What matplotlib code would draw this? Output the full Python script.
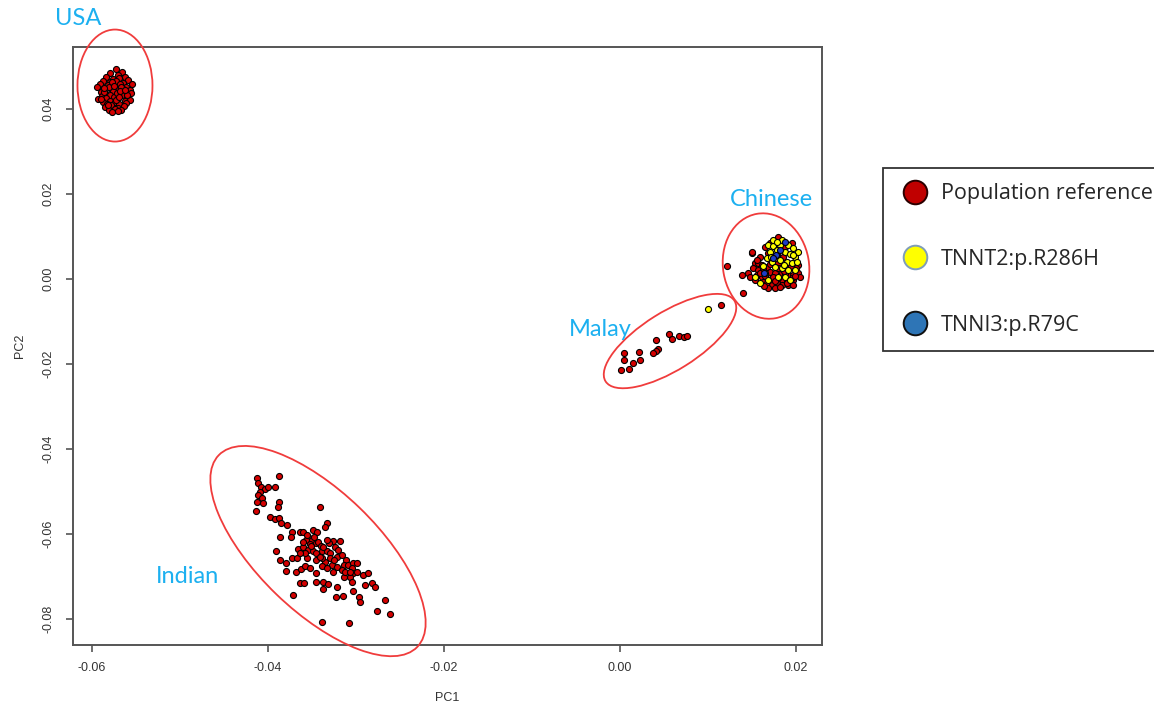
import matplotlib
matplotlib.use("Agg")
import matplotlib.pyplot as plt
from matplotlib.patches import Ellipse
from matplotlib.lines import Line2D
from matplotlib.transforms import ScaledTranslation

# ---------------- data (PC1, PC2) ----------------
usa_pc1 = [-0.0573, -0.0566, -0.0579, -0.0570, -0.0562, -0.0584, -0.0576, -0.0569, -0.0559, -0.0587,
           -0.0580, -0.0573, -0.0565, -0.0591, -0.0582, -0.0577, -0.0568, -0.0561, -0.0555, -0.0594,
           -0.0587, -0.0580, -0.0571, -0.0566, -0.0557, -0.0590, -0.0585, -0.0576, -0.0571, -0.0562,
           -0.0556, -0.0589, -0.0580, -0.0575, -0.0566, -0.0560, -0.0593, -0.0584, -0.0579, -0.0570,
           -0.0563, -0.0557, -0.0588, -0.0583, -0.0574, -0.0569, -0.0561, -0.0585, -0.0578, -0.0571,
           -0.0564, -0.0581, -0.0574, -0.0567, -0.0577, -0.0570, -0.0581, -0.0572, -0.0567, -0.0586,
           -0.0560, -0.0577, -0.0568, -0.0590, -0.0582, -0.0573, -0.0563, -0.0575, -0.0586, -0.0569]
usa_pc2 = [0.0494, 0.0488, 0.0485, 0.0480, 0.0476, 0.0475, 0.0471, 0.0474, 0.0468, 0.0466,
           0.0463, 0.0467, 0.0461, 0.0459, 0.0457, 0.0455, 0.0458, 0.0452, 0.0460, 0.0453,
           0.0447, 0.0450, 0.0446, 0.0449, 0.0444, 0.0441, 0.0437, 0.0442, 0.0436, 0.0440,
           0.0437, 0.0430, 0.0434, 0.0428, 0.0432, 0.0427, 0.0423, 0.0426, 0.0420, 0.0425,
           0.0419, 0.0422, 0.0416, 0.0413, 0.0417, 0.0411, 0.0414, 0.0406, 0.0409, 0.0403,
           0.0407, 0.0398, 0.0401, 0.0397, 0.0392, 0.0395, 0.0453, 0.0438, 0.0451, 0.0439,
           0.0433, 0.0463, 0.0443, 0.0424, 0.0410, 0.0421, 0.0446, 0.0455, 0.0449, 0.0428]

indian_pc1 = [-0.0413, -0.0411, -0.0408, -0.0403, -0.0400, -0.0409, -0.0411, -0.0407, -0.0413, -0.0406,
              -0.0387, -0.0392, -0.0388, -0.0389, -0.0414, -0.0341, -0.0398, -0.0392, -0.0387, -0.0385,
              -0.0378, -0.0333, -0.0335, -0.0373, -0.0364, -0.0360, -0.0349, -0.0344, -0.0386, -0.0374,
              -0.0354, -0.0357, -0.0350, -0.0346, -0.0343, -0.0340, -0.0326, -0.0318, -0.0366, -0.0360,
              -0.0354, -0.0349, -0.0345, -0.0339, -0.0333, -0.0330, -0.0324, -0.0320, -0.0391, -0.0330,
              -0.0322, -0.0316, -0.0311, -0.0373, -0.0367, -0.0356, -0.0345, -0.0335, -0.0327, -0.0322,
              -0.0314, -0.0309, -0.0303, -0.0299, -0.0386, -0.0380, -0.0379, -0.0368, -0.0362, -0.0358,
              -0.0346, -0.0339, -0.0333, -0.0326, -0.0316, -0.0305, -0.0303, -0.0299, -0.0292, -0.0286,
              -0.0307, -0.0305, -0.0290, -0.0282, -0.0279, -0.0364, -0.0359, -0.0346, -0.0337, -0.0332,
              -0.0322, -0.0337, -0.0323, -0.0315, -0.0303, -0.0297, -0.0295, -0.0372, -0.0267, -0.0276,
              -0.0261, -0.0339, -0.0308, -0.0352, -0.0339, -0.0314, -0.0312, -0.0331, -0.0352, -0.0360,
              -0.0356, -0.0348, -0.0351, -0.0358, -0.0337, -0.0341, -0.0325, -0.0307, -0.0364, -0.0333]
indian_pc2 = [-0.0469, -0.0481, -0.0489, -0.0495, -0.0490, -0.0500, -0.0508, -0.0516, -0.0524, -0.0528,
              -0.0463, -0.0489, -0.0524, -0.0536, -0.0545, -0.0537, -0.0561, -0.0565, -0.0563, -0.0573,
              -0.0579, -0.0575, -0.0584, -0.0594, -0.0594, -0.0594, -0.0591, -0.0594, -0.0608, -0.0606,
              -0.0606, -0.0614, -0.0614, -0.0622, -0.0618, -0.0628, -0.0616, -0.0616, -0.0634, -0.0630,
              -0.0638, -0.0641, -0.0645, -0.0641, -0.0641, -0.0645, -0.0631, -0.0638, -0.0641, -0.0657,
              -0.0653, -0.0649, -0.0661, -0.0657, -0.0657, -0.0657, -0.0661, -0.0665, -0.0673, -0.0677,
              -0.0673, -0.0673, -0.0667, -0.0669, -0.0661, -0.0667, -0.0686, -0.0689, -0.0683, -0.0675,
              -0.0692, -0.0675, -0.0681, -0.0689, -0.0685, -0.0681, -0.0692, -0.0689, -0.0696, -0.0692,
              -0.0702, -0.0712, -0.0720, -0.0716, -0.0724, -0.0716, -0.0714, -0.0712, -0.0712, -0.0718,
              -0.0724, -0.0730, -0.0747, -0.0746, -0.0733, -0.0747, -0.0761, -0.0743, -0.0754, -0.0780,
              -0.0788, -0.0806, -0.0809, -0.0681, -0.0657, -0.0700, -0.0689, -0.0622, -0.0623, -0.0618,
              -0.0602, -0.0608, -0.0628, -0.0645, -0.0630, -0.0653, -0.0661, -0.0689, -0.0645, -0.0614]

malay_pc1 = [0.01148, 0.00560, 0.00588, 0.00670, 0.00727, 0.00765, 0.00413, 0.00432, 0.00406,
             0.00375, 0.00213, 0.00231, 0.00049, 0.00042, 0.00144, 0.00106, 0.00008]
malay_pc2 = [-0.00612, -0.01287, -0.01405, -0.01341, -0.01365, -0.01334, -0.01428, -0.01654, -0.01694,
             -0.01734, -0.01711, -0.01913, -0.01748, -0.01913, -0.01984, -0.02125, -0.02148]

chinese_pc1 = [0.01799, 0.01648, 0.01496, 0.01591, 0.01534, 0.01572, 0.01610, 0.01667, 0.01515, 0.01572,
               0.01629, 0.01705, 0.01761, 0.01837, 0.01913, 0.01970, 0.02027, 0.01553, 0.01610, 0.01723,
               0.01837, 0.01894, 0.01970, 0.01629, 0.01667, 0.01723, 0.01780, 0.01837, 0.01913, 0.01970,
               0.01761, 0.01686, 0.01383, 0.01458, 0.01705, 0.01875, 0.01951, 0.01780, 0.01856, 0.01686,
               0.01913, 0.01799, 0.02027, 0.02045, 0.01534, 0.01477, 0.01213, 0.01497, 0.01394,
               0.01590, 0.01650, 0.01740, 0.01800, 0.01880, 0.01950, 0.02000, 0.01560, 0.01620, 0.01700,
               0.01760, 0.01820, 0.01900, 0.01990, 0.01640, 0.01720, 0.01860, 0.01940, 0.01800]
chinese_pc2 = [0.00996, 0.00761, 0.00620, 0.00525, 0.00369, 0.00369, 0.00329, 0.00290, 0.00251, 0.00212,
               0.00173, 0.00173, 0.00133, 0.00133, 0.00094, 0.00094, 0.00133, 0.00094, 0.00055, 0.00016,
               -0.00024, -0.00063, -0.00024, -0.00063, -0.00102, -0.00141, -0.00102, -0.00141, -0.00141, -0.00141,
               -0.00220, -0.00220, 0.00094, 0.00133, 0.00839, 0.00761, 0.00839, 0.00565, 0.00525, 0.00604,
               0.00329, 0.00369, 0.00329, 0.00055, -0.00024, 0.00055, 0.00313, 0.00642, -0.00336,
               0.00150, 0.00080, 0.00060, 0.00030, 0.00110, 0.00020, 0.00250, 0.00450, 0.00250, 0.00350,
               -0.00050, -0.00180, -0.00090, 0.00070, -0.00160, 0.00480, 0.00180, 0.00300, 0.00260]

tnnt2_pc1 = [0.01686, 0.01742, 0.01818, 0.01913, 0.01970, 0.01705, 0.01780, 0.01875, 0.01932, 0.01989,
             0.01667, 0.01723, 0.01818, 0.01894, 0.01951, 0.02008, 0.01761, 0.01837, 0.01913, 0.01989,
             0.01648, 0.01686, 0.01799, 0.01875, 0.01932, 0.01534, 0.01591, 0.02027, 0.01837, 0.01742,
             0.01000, 0.01780, 0.01860, 0.01960, 0.01720, 0.01630]
tnnt2_pc2 = [0.00800, 0.00776, 0.00800, 0.00800, 0.00722, 0.00643, 0.00682, 0.00643, 0.00588, 0.00525,
             0.00486, 0.00408, 0.00447, 0.00408, 0.00369, 0.00408, 0.00290, 0.00251, 0.00212, 0.00212,
             0.00133, -0.00024, 0.00055, 0.00055, -0.00024, 0.00055, -0.00102, 0.00643, 0.00918, 0.00918,
             -0.00713, 0.00870, 0.00330, 0.00560, 0.00520, 0.00300]

tnni3_pc1 = [0.01875, 0.01773, 0.01735, 0.01636, 0.01820]
tnni3_pc2 = [0.00878, 0.00565, 0.00494, 0.00134, 0.00680]

group_names = ["USA", "Chinese", "Malay", "Indian"]
legend_labels = ["Population reference", "TNNT2:p.R286H", "TNNI3:p.R79C"]
xticks = [-0.06, -0.04, -0.02, 0.00, 0.02]
yticks = [0.04, 0.02, 0.00, -0.02, -0.04, -0.06, -0.08]

# ---------------- figure ----------------
W, H = 1154, 709
fig = plt.figure(figsize=(W / 100, H / 100), dpi=100)
ax = fig.add_axes([73 / W, 1 - 645 / H, (822 - 73) / W, (645 - 47) / H])

red = "#D40000"
pop_x = usa_pc1 + indian_pc1 + malay_pc1 + chinese_pc1
pop_y = usa_pc2 + indian_pc2 + malay_pc2 + chinese_pc2
ax.scatter(pop_x, pop_y, s=19, c=red, edgecolors="black", linewidths=0.8, zorder=3)
ax.scatter(tnnt2_pc1, tnnt2_pc2, s=19, c="#FFFF00", edgecolors="black", linewidths=0.8, zorder=4)
ax.scatter(tnni3_pc1, tnni3_pc2, s=19, c="#1E3CC8", edgecolors="black", linewidths=0.8, zorder=5)

ax.set_xlim(-0.06216, 0.02295)
ax.set_ylim(-0.0861, 0.0546)
ax.set_xticks(xticks)
ax.set_xticklabels([f"{v:.2f}" for v in xticks])
ax.set_yticks(yticks)
ax.set_yticklabels([f"{v:.2f}" for v in yticks], rotation=90, va="center")

tick_font = dict(family=["Liberation Sans", "DejaVu Sans"], size=9)
for lab in ax.get_xticklabels() + ax.get_yticklabels():
    lab.set_fontfamily(["Liberation Sans", "DejaVu Sans"])
    lab.set_fontsize(9)
    lab.set_color("#333333")
ax.tick_params(axis="x", direction="out", length=5, width=1.2, color="#555555", pad=7)
ax.tick_params(axis="y", direction="out", length=5, width=1.2, color="#555555", pad=8)
for sp in ax.spines.values():
    sp.set_color("#555555")
    sp.set_linewidth(1.4)

ax.set_xlabel("PC1", fontdict=tick_font, color="#333333", labelpad=13)
ax.set_ylabel("PC2", fontdict=tick_font, color="#333333", labelpad=12)

# ---------------- ellipses (center in data, size in inches) ----------------
ell_specs = [
    ((-0.05739, 0.04553), 0.75, 1.12, 0),
    ((0.01659, 0.00306), 0.86, 1.06, 10),
    ((0.00568, -0.01459), 1.52, 0.58, 32),
    ((-0.03432, -0.06400), 2.76, 1.20, -44),
]
for (cx, cy), w, h, ang in ell_specs:
    tr = fig.dpi_scale_trans + ScaledTranslation(cx, cy, ax.transData)
    e = Ellipse((0, 0), w, h, angle=ang, transform=tr, fill=False,
                edgecolor="#F03C3C", linewidth=1.3, clip_on=False, zorder=6)
    ax.add_artist(e)

# ---------------- group labels ----------------
label_pos = [(-0.06159, 0.0614), (0.01716, 0.01882), (-0.00227, -0.01176), (-0.0492, -0.0699)]
for name, (lx, ly) in zip(group_names, label_pos):
    ax.text(lx, ly, name, color="#1CB0F0", fontsize=17, family=["Lato", "DejaVu Sans"],
            ha="center", va="center", clip_on=False, zorder=7)

# ---------------- legend ----------------
handles = [
    Line2D([], [], linestyle="none", marker="o", markersize=17, markerfacecolor="#C00000",
           markeredgecolor="#2a0000", markeredgewidth=1.4),
    Line2D([], [], linestyle="none", marker="o", markersize=17, markerfacecolor="#FFFF00",
           markeredgecolor="#7F9DB9", markeredgewidth=1.4),
    Line2D([], [], linestyle="none", marker="o", markersize=17, markerfacecolor="#2E75B6",
           markeredgecolor="#111111", markeredgewidth=1.4),
]
leg = fig.legend(handles, legend_labels, loc="upper left",
                 bbox_to_anchor=(883 / W, 1 - 168 / H), borderaxespad=0,
                 prop=dict(family=["Open Sans", "DejaVu Sans"], size=15.5),
                 frameon=True, fancybox=False, edgecolor="black", borderpad=0.7,
                 labelspacing=2.08, handlelength=1.55, handletextpad=0.45)
leg.get_frame().set_linewidth(1.3)
for t in leg.get_texts():
    t.set_color("#262626")

fig.savefig("out.png", dpi=100)
